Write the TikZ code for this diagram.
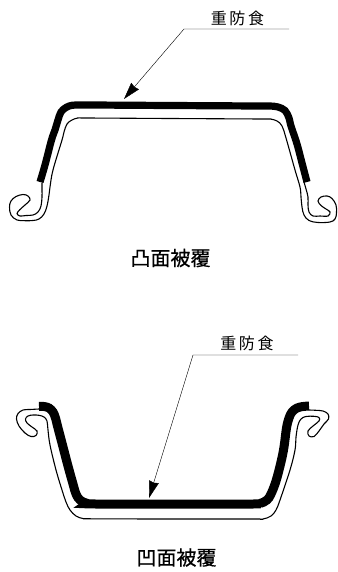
\documentclass[tikz,border=0pt]{standalone}
\usepackage{fontspec}
\newfontfamily\cjk{Noto Sans CJK JP}
\newfontfamily\cjkheavy[FakeBold=0.6]{Noto Sans CJK JP}
\usetikzlibrary{arrows.meta, positioning}

\begin{document}
\begin{tikzpicture}[
    x=1pt, y=-1pt,
    sheet/.style={draw=black, line width=1.1pt},
    coat/.style={draw=black, line width=7pt},
    leader/.style={draw=black, line width=0.4pt, -{Stealth[length=17pt, width=10pt, inset=1pt]}},
    tag/.style={font=\cjk\fontsize{16}{16}\selectfont, inner sep=0pt},
    caption/.style={font=\cjkheavy\fontsize{20}{20}\selectfont, inner sep=0pt}]

\useasboundingbox (0,0) rectangle (337,572);

% Upper section
\draw[sheet] plot[smooth, tension=0.6] coordinates {
    (42,183) (42,190) (42,197) (41,206) (38,212) (33,215) (26,215.5) (20,216) (17,213.5) (20,209.5)
    (25,205) (30,200) (28,196) (23,194.5) (16,196.5) (11,201) (9.5,207) (11,215) (17,220) (25,220.7) (33,220.5)
    (39,219) (44,214) (47,206) (49,195) (50,187) (53,170) (62,140) (64,132) (67,124) (72,120) (78,118) (86,118)
    (170,118.5) (262,119) (270,119) (277,121) (282,126) (286,138) (295,170) (300,187) (301,197) (302,207)
    (304,215) (309,220.5) (318,222.5) (330,222) (335,219) (336.5,213) (336,205) (332,198.5) (327,196) (321,197) (318,201) (321,205.5)
    (326,209) (330,212) (328,216) (320,216) (313,216) (309,212) (308,205) (308,197) (306,189) (304,182)};
\draw[coat, line width=7.2pt] plot[smooth, tension=0.6] coordinates {
    (40,182) (45,165) (51.5,140) (55,130) (58,120) (61,112) (66,107.5) (72,105.3) (80,105) (90,105)
    (170,105.5) (260,106) (270,106) (278,107) (285,110.5) (289,118) (291,126) (297,144) (302,163) (307,182)};

\node[tag] (toplabel) at (237.5,18) {重\,防\,食};
\coordinate (topend)  at (289,29);
\coordinate (topbend) at (184,29);
\coordinate (toptip)  at (124,99);
\draw[leader] (topend) -- (topbend) -- (toptip);

\node[caption] (topcaption) at (170.5,258) {凸面被覆};

% Lower section
\draw[sheet] plot[smooth, tension=0.6] coordinates {
    (39,409) (30,409.5) (23,410) (18,413.5) (16.5,419) (19,426) (25,433) (31,436.5) (36,435.5) (37,431)
    (32,427) (27,423) (25.5,419) (28,416) (33,415) (39,415.3) (44,417) (47,421) (48,430) (50,445) (56,470) (62,490) (66,502)
    (70,510) (76,516) (83,518.5) (92,518.8)
    (170,519) (254,519) (263,519) (271,516) (276,510) (280,500) (290,470) (295,450) (296,437) (298,425) (301,419)
    (306,416.5) (314,416.3) (319,417.5) (319,421) (313,426) (308,431) (309,436) (314,436.5) (319,431) (324,424)
    (328.5,419) (328,414) (323,411) (316,410.3) (309,410)};
\draw[coat, line width=9pt] plot[smooth, tension=0.6] coordinates {
    (39,406.5) (44,406.5) (49,408) (53,412) (55.5,418) (57.5,426) (62.5,445) (68,466) (73,484) (76,494) (80,500)
    (87,503.3) (96,504)
    (170,504) (252,504) (260,503.5) (267,500) (271,494) (276,481) (281,462) (284,447) (286.5,428) (289,418) (292,412) (297,408) (303,406.5) (309,406)};

\node[tag] (botlabel) at (247,343) {重\,防\,食};
\coordinate (botend)  at (298,355);
\coordinate (botbend) at (193,355);
\coordinate (bottip)  at (149,498);
\draw[leader] (botend) -- (botbend) -- (bottip);

\node[caption] (botcaption) at (176.5,557.5) {凹面被覆};

\end{tikzpicture}
\end{document}
